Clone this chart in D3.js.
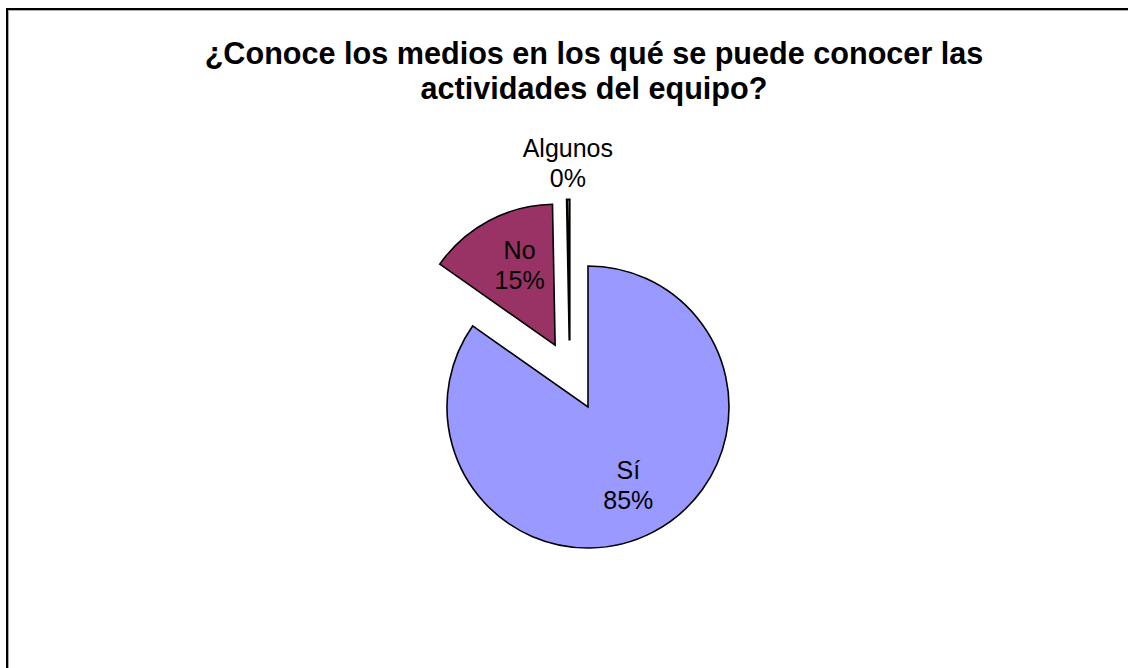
<!DOCTYPE html>
<html>
<head>
<meta charset="utf-8">
<script src="https://cdn.jsdelivr.net/npm/d3@7"></script>
<style>
  body { margin: 0; background: #fff; }
  text { font-family: "Liberation Sans", Arial, sans-serif; }
</style>
</head>
<body>
<div id="container"></div>
<script>
const width = 1128;
const height = 668;

// data
const categories = ["Sí", "No", "Algunos"];
const values = [85, 15, 0.3];
const colors = ["#9999FF", "#993366", "#FFFFCC"];
const explode = [0, 70, 69];        // px pulled out from centre
const explodeTilt = [0, 0, -15];    // degrees, the thin slice drifts left
const titleLines = ["¿Conoce los medios en los qué se puede conocer las", "actividades del equipo?"];

const cx = 588, cy = 407, radius = 141;

const total = d3.sum(values);
const data = categories.map((c, i) => ({ name: c, value: values[i], color: colors[i], explode: explode[i], tilt: explodeTilt[i] }));

const svg = d3.select("#container")
  .append("svg")
  .attr("width", width)
  .attr("height", height);

// frame
svg.append("rect")
  .attr("x", 7).attr("y", 9)
  .attr("width", width + 10).attr("height", height + 10)
  .attr("fill", "none")
  .attr("stroke", "#000")
  .attr("stroke-width", 2);
svg.append("rect")
  .attr("x", 8.5).attr("y", 10.5)
  .attr("width", width + 10).attr("height", height + 10)
  .attr("fill", "none")
  .attr("stroke", "#aaa")
  .attr("stroke-width", 1);

svg.append("text")
  .attr("x", 594)
  .attr("text-anchor", "middle")
  .attr("font-size", 30.6)
  .attr("font-weight", "bold")
  .selectAll("tspan")
  .data(titleLines)
  .join("tspan")
  .attr("x", 594)
  .attr("y", (d, i) => 64 + i * 35)
  .text(d => d);

const pie = d3.pie().sort(null).value(d => d.value);
const arc = d3.arc().innerRadius(0).outerRadius(radius);

const arcs = pie(data);

function offset(d) {
  const a = (d.startAngle + d.endAngle) / 2 + d.data.tilt * Math.PI / 180;
  return [Math.sin(a) * d.data.explode, -Math.cos(a) * d.data.explode];
}

const g = svg.append("g").attr("transform", `translate(${cx},${cy})`);

g.selectAll("path")
  .data(arcs)
  .join("path")
  .attr("transform", d => `translate(${offset(d)})`)
  .attr("d", arc)
  .attr("fill", d => d.data.color)
  .attr("stroke", "#000")
  .attr("stroke-width", d => d.value / total < 0.05 ? 2.2 : 1.6)
  .attr("stroke-linejoin", "miter");

// labels: inside for big slices, outside above for the tiny one
const labels = g.selectAll("text.lbl")
  .data(arcs)
  .join("text")
  .attr("class", "lbl")
  .attr("text-anchor", "middle")
  .attr("font-size", 25)
  .attr("fill", "#000")
  .attr("transform", d => {
    const [ox, oy] = offset(d);
    const a = (d.startAngle + d.endAngle) / 2 + d.data.tilt * Math.PI / 180 * 0;
    const share = d.value / total;
    const r = share < 0.05 ? radius * 1.26 : radius * 0.62;
    const lean = share < 0.5 && share >= 0.05 ? 4 * Math.PI / 180 : 0;
    return `translate(${ox + Math.sin(a + lean) * r},${oy - Math.cos(a + lean) * r})`;
  });

labels.selectAll("tspan")
  .data(d => [d.data.name, Math.round(d.value / total * 100) + "%"])
  .join("tspan")
  .attr("x", 0)
  .attr("y", (d, i) => i === 0 ? -6 : 24)
  .text(d => d);
</script>
</body>
</html>
